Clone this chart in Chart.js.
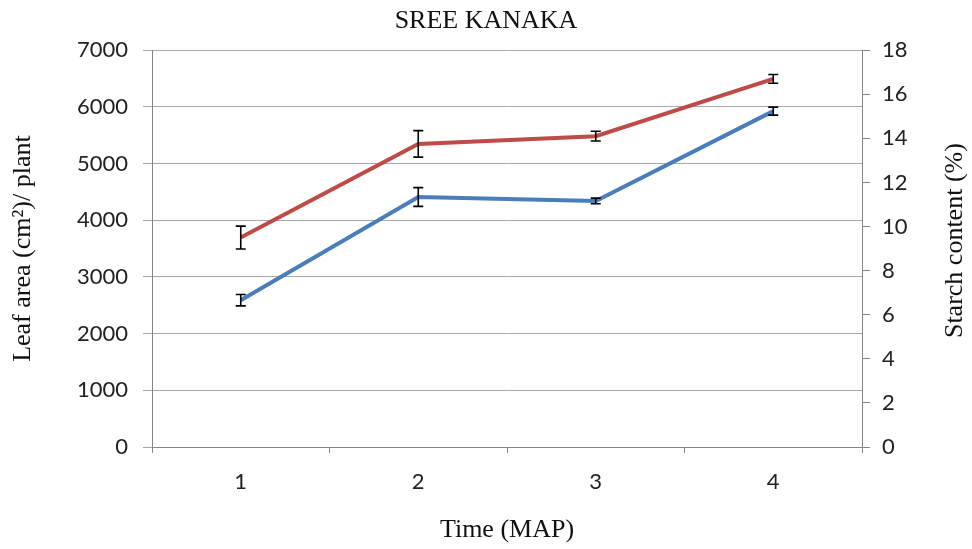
<!DOCTYPE html>
<html>
<head>
<meta charset="utf-8">
<script src="https://cdn.jsdelivr.net/npm/chart.js@4"></script>
<style>
  html, body { margin: 0; padding: 0; background: #fff; }
  #wrap { width: 972px; height: 549px; }
</style>
</head>
<body>
<div id="wrap"><canvas id="myChart" width="972" height="549"></canvas></div>
<script>
// x-axis labels (months after planting)
var months = ['1', '2', '3', '4'];
// leaf area per plant (left axis) and its error
var leafArea = [2590, 4410, 4340, 5925];
var leafAreaErr = [100, 165, 50, 70];
// starch content (right axis) and its error
var starch = [9.5, 13.75, 14.1, 16.7];
var starchErr = [0.52, 0.6, 0.22, 0.2];

var serif = 'Liberation Serif';
var sans = 'Lato';
var rightTitle = 'Starch content (%)';

// draws the little I-shaped error bars on top of the lines
var errorBars = {
  id: 'errorBars',
  afterDatasetsDraw: function(chart) {
    var c = chart.ctx;
    c.save();
    c.strokeStyle = '#000';
    c.lineWidth = 1.6;
    chart.data.datasets.forEach(function(ds, i) {
      if (!ds.errors) return;
      var meta = chart.getDatasetMeta(i);
      var ys = chart.scales[ds.yAxisID];
      meta.data.forEach(function(pt, j) {
        var x = pt.x;
        var top = ys.getPixelForValue(ds.data[j] + ds.errors[j]);
        var bot = ys.getPixelForValue(ds.data[j] - ds.errors[j]);
        c.beginPath();
        c.moveTo(x, top); c.lineTo(x, bot);
        c.moveTo(x - 5, top); c.lineTo(x + 5, top);
        c.moveTo(x - 5, bot); c.lineTo(x + 5, bot);
        c.stroke();
      });
    });
    c.restore();
  }
};

// right axis title, reading bottom-to-top like the left one
var rightAxisTitle = {
  id: 'rightAxisTitle',
  afterDraw: function(chart) {
    var s = chart.scales.y1;
    var c = chart.ctx;
    c.save();
    c.translate(s.right - 17, (s.top + s.bottom) / 2 - 8);
    c.rotate(-Math.PI / 2);
    c.font = '26px "' + serif + '"';
    c.fillStyle = '#111';
    c.textAlign = 'center';
    c.textBaseline = 'middle';
    c.fillText(rightTitle, 0, 0);
    c.restore();
  }
};

var ctx = document.getElementById('myChart');
var myChart = new Chart(ctx, {
  type: 'line',
  data: {
    labels: months,
    datasets: [
      {
        label: 'Leaf area',
        data: leafArea,
        errors: leafAreaErr,
        yAxisID: 'y',
        borderColor: '#4a7ebb',
        borderWidth: 4,
        pointRadius: 0,
        fill: false
      },
      {
        label: 'Starch content',
        data: starch,
        errors: starchErr,
        yAxisID: 'y1',
        borderColor: '#be4b48',
        borderWidth: 4,
        pointRadius: 0,
        fill: false
      }
    ]
  },
  options: {
    responsive: false,
    animation: false,
    plugins: {
      legend: { display: false },
      tooltip: { enabled: false },
      title: {
        display: true,
        text: 'SREE KANAKA',
        color: '#111',
        font: { family: serif, size: 26, weight: 'normal' },
        padding: { top: 6, bottom: 13 }
      }
    },
    scales: {
      x: {
        offset: true,
        grid: { offset: true, drawOnChartArea: false, tickLength: 6, color: '#868686' },
        border: { color: '#868686' },
        ticks: { color: '#222', padding: 16, font: { family: sans, size: 22 } },
        title: {
          display: true,
          text: 'Time (MAP)',
          color: '#111',
          font: { family: serif, size: 26 },
          padding: { top: 0, bottom: 3 }
        },
        afterFit: function(s) { s.height = 102; }
      },
      y: {
        position: 'left',
        min: 0, max: 7000,
        ticks: {
          stepSize: 1000, color: '#222', padding: 15,
          font: { family: sans, size: 22 },
          callback: function(v) { return String(v); }
        },
        grid: { color: '#a8a8a8', tickLength: 9 },
        border: { color: '#868686' },
        title: {
          display: true,
          text: 'Leaf area (cm²)/ plant',
          color: '#111',
          font: { family: serif, size: 26 },
          padding: { top: 8, bottom: 0 }
        },
        afterFit: function(s) { s.width = 152; }
      },
      y1: {
        position: 'right',
        min: 0, max: 18,
        ticks: { stepSize: 2, color: '#222', padding: 12, font: { family: sans, size: 22 } },
        grid: { drawOnChartArea: false, tickLength: 8, color: '#868686' },
        border: { color: '#868686' },
        afterFit: function(s) { s.width = 110; }
      }
    }
  },
  plugins: [errorBars, rightAxisTitle]
});
</script>
</body>
</html>
